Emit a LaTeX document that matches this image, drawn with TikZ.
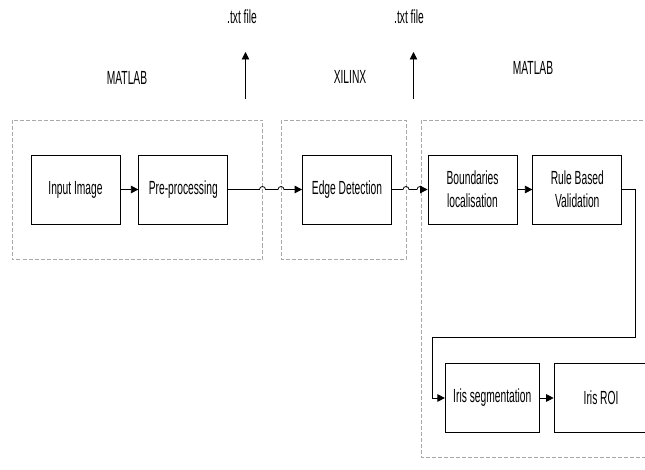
\documentclass[tikz,border=0pt]{standalone}
\usepackage{fontspec}
\setmainfont{Liberation Sans}[FakeStretch=0.54]
\usepackage{tikz}
\usetikzlibrary{arrows.meta,calc,positioning}
\definecolor{FrameGrey}{HTML}{A9A9A9}
\definecolor{Ink}{HTML}{000000}
\tikzset{
  procbox/.style={
    draw=Ink,
    line width=0.8pt,
    minimum width=89pt,
    minimum height=69pt,
    inner sep=2pt,
    align=center,
    font=\fontsize{19}{23}\selectfont
  },
  groupframe/.style={
    draw=FrameGrey,
    line width=0.6pt,
    dash pattern=on 4pt off 2pt
  },
  flowarrow/.style={
    draw=Ink,
    line width=0.8pt,
    -{Triangle[length=7.5pt,width=7.5pt]}
  },
  toollabel/.style={font=\fontsize{19}{23}\selectfont}
}

\begin{document}
\begin{tikzpicture}[x=1pt,y=-1pt]
        \path[use as bounding box,clip] (0,0) rectangle (645,470);

        % tool groups
        \draw[groupframe] (12,120) rectangle (262.5,259.5);
        \draw[groupframe] (281,120) rectangle (406,259.5);
        \draw[groupframe] (421,120) rectangle (660,457);

        \node[toollabel] (matlabA) at (127,78) {MATLAB};
        \node[toollabel] (xilinx) at (350,77) {XILINX};
        \node[toollabel] (matlabB) at (533,68) {MATLAB};

        % processing blocks
        \node[procbox] (input) at (75.5,189.5) {Input Image};
        \node[procbox, right=18pt of input] (preproc) {Pre-processing};
        \node[procbox] (edge) at (347,189.5) {Edge Detection};
        \node[procbox] (bound) at (472.5,189.5) {Boundaries\\localisation};
        \node[procbox, right=15pt of bound] (rule) {Rule Based\\Validation};
        \node[procbox, minimum width=94pt] (irisseg) at (492.3,398) {Iris segmentation};
        \node[procbox, minimum width=94pt, right=14pt of irisseg] (irisroi) {Iris ROI};

        % file outputs
        \node[toollabel] (txtA) at (242,17) {.txt file};
        \node[toollabel] (txtB) at (409,17) {.txt file};
        \coordinate (outA) at (245.5,99);
        \coordinate (outAtip) at (245.5,52);
        \coordinate (outB) at (413.5,99);
        \coordinate (outBtip) at (413.5,52);
        \draw[flowarrow] (outA) -- (outAtip);
        \draw[flowarrow] (outB) -- (outBtip);

        % line hops over the frames
        \coordinate (hopA) at (262.5,189.5);
        \coordinate (hopB) at (281,189.5);
        \coordinate (hopC) at (406,189.5);
        \coordinate (hopD) at (420,189.5);

        \draw[flowarrow] (input) -- (preproc);
        \draw[flowarrow] (preproc.east) -- ($(hopA)-(3pt,0)$)
          arc[start angle=180,end angle=0,radius=3pt]
          -- ($(hopB)-(3pt,0)$)
          arc[start angle=180,end angle=0,radius=3pt] -- (edge.west);
        \draw[flowarrow] (edge.east) -- ($(hopC)-(3pt,0)$)
          arc[start angle=180,end angle=0,radius=3pt]
          -- ($(hopD)-(3pt,0)$)
          arc[start angle=180,end angle=0,radius=3pt] -- (bound.west);
        \draw[flowarrow] (bound) -- (rule);

        \coordinate (loopR) at (635,337.5);
        \coordinate (loopL) at (432.3,337.5);
        \draw[flowarrow] (rule.east) -| (loopR) -- (loopL) |- (irisseg.west);
        \draw[flowarrow] (irisseg) -- (irisroi);
      \end{tikzpicture}
\end{document}
